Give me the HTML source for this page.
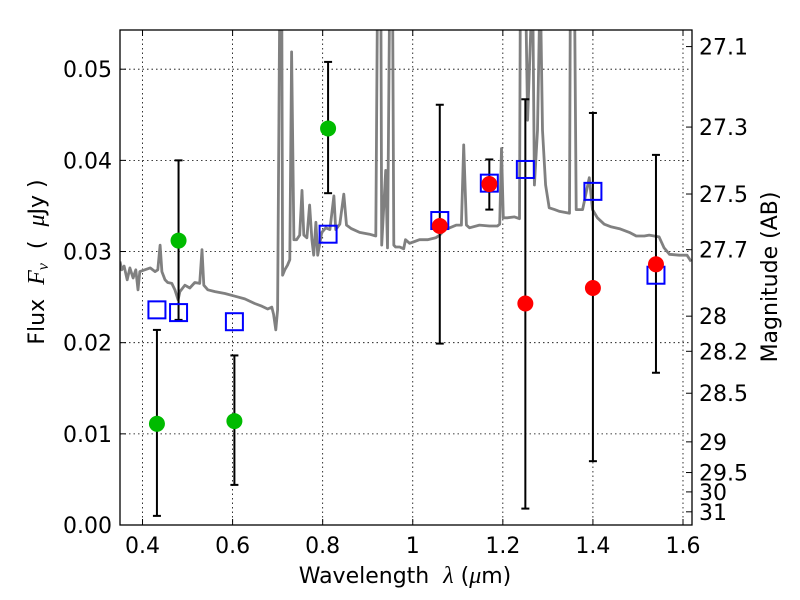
<!DOCTYPE html>
<html><head><meta charset="utf-8"><style>
html,body{margin:0;padding:0;background:#fff;}
svg{display:block;font-family:"DejaVu Sans","Liberation Sans",sans-serif;}
</style></head><body>
<svg id="chart" width="800" height="600" viewBox="0 0 800 600" xmlns="http://www.w3.org/2000/svg">
<rect x="0" y="0" width="800" height="600" fill="#fff"/>
<defs><clipPath id="clip"><rect x="120" y="30" width="572" height="495"/></clipPath></defs>
<g id="grid"></g>
<g id="spec" clip-path="url(#clip)"></g>
<g id="marks" clip-path="url(#clip)"></g>
<rect x="120" y="30" width="572" height="495" fill="none" stroke="#000" stroke-width="1.3"/>
<g id="axes"></g>
<text x="405" y="583" font-size="22" text-anchor="middle" xml:space="preserve">Wavelength  <tspan font-family="Liberation Serif" font-style="italic" font-size="24">λ</tspan> (<tspan font-family="Liberation Serif" font-style="italic" font-size="24">μ</tspan>m)</text>
<text transform="translate(44,262) rotate(-90)" font-size="22" text-anchor="middle" xml:space="preserve">Flux  <tspan font-family="Liberation Serif" font-style="italic" font-size="24">F</tspan><tspan font-family="Liberation Serif" font-style="italic" font-size="16" dy="4">ν</tspan><tspan dy="-4">  (  </tspan><tspan font-family="Liberation Serif" font-style="italic" font-size="24">μ</tspan>Jy )</text>
<text transform="translate(777,277) rotate(-90)" font-size="22" text-anchor="middle">Magnitude (AB)</text>
</svg>
<script>
const xTicks = [0.4,0.6,0.8,1.0,1.2,1.4,1.6];
const xTickLabels = ["0.4","0.6","0.8","1","1.2","1.4","1.6"];
const yTicks = [0,0.01,0.02,0.03,0.04,0.05];
const yTickLabels = ["0.00","0.01","0.02","0.03","0.04","0.05"];
const magTicks = [27.1,27.3,27.5,27.7,28,28.2,28.5,29,29.5,30,31];
const magTickLabels = ["27.1","27.3","27.5","27.7","28","28.2","28.5","29","29.5","30","31"];
const specWl = [0.350,0.354,0.359,0.366,0.372,0.379,0.385,0.390,0.394,0.405,0.417,0.428,0.434,0.439,0.443,0.450,0.456,0.465,0.472,0.479,0.483,0.494,0.505,0.516,0.527,0.532,0.536,0.545,0.561,0.583,0.605,0.627,0.649,0.665,0.678,0.687,0.691,0.696,0.700,0.705,0.709,0.711,0.716,0.722,0.727,0.731,0.736,0.742,0.749,0.754,0.758,0.765,0.771,0.776,0.780,0.785,0.789,0.798,0.807,0.816,0.825,0.829,0.838,0.847,0.853,0.864,0.882,0.904,0.918,0.922,0.929,0.931,0.940,0.944,0.949,0.955,0.958,0.962,0.971,0.980,0.984,0.993,1.004,1.015,1.033,1.051,1.060,1.071,1.082,1.097,1.108,1.113,1.119,1.126,1.148,1.170,1.188,1.193,1.197,1.201,1.210,1.226,1.237,1.239,1.250,1.255,1.266,1.270,1.277,1.283,1.288,1.295,1.303,1.315,1.326,1.348,1.350,1.359,1.363,1.377,1.392,1.399,1.410,1.425,1.441,1.459,1.481,1.496,1.514,1.525,1.547,1.558,1.570,1.592,1.609,1.618];
const specFlux = [0.0289,0.0280,0.0284,0.0269,0.0282,0.0271,0.0280,0.0258,0.0278,0.0280,0.0282,0.0278,0.0280,0.0307,0.0278,0.0269,0.0266,0.0265,0.0258,0.0247,0.0256,0.0263,0.0260,0.0266,0.0265,0.0302,0.0263,0.0258,0.0256,0.0254,0.0251,0.0248,0.0243,0.0240,0.0237,0.0239,0.0231,0.0214,0.0236,0.06,0.06,0.0274,0.0280,0.0285,0.0291,0.0519,0.0313,0.0313,0.0318,0.0367,0.0318,0.0315,0.0351,0.0313,0.0296,0.0332,0.0296,0.0321,0.0326,0.0324,0.0361,0.0324,0.0330,0.0363,0.0329,0.0325,0.0321,0.0319,0.0317,0.06,0.06,0.0307,0.0389,0.0304,0.06,0.06,0.0307,0.0305,0.0305,0.0303,0.0313,0.0309,0.0311,0.0313,0.0313,0.0315,0.0318,0.0324,0.0326,0.0329,0.0329,0.0417,0.0329,0.0326,0.0329,0.0328,0.0328,0.0330,0.0413,0.0337,0.0337,0.0338,0.0336,0.06,0.06,0.0444,0.06,0.0373,0.0433,0.06,0.0433,0.0373,0.0348,0.0346,0.0344,0.0342,0.06,0.06,0.0346,0.0346,0.0381,0.0346,0.0337,0.0330,0.0327,0.0325,0.0321,0.0317,0.0317,0.0318,0.0316,0.0304,0.0297,0.0296,0.0296,0.0289];
const greenWl = [0.432,0.48,0.604,0.812];
const greenFlux = [0.0111,0.0312,0.0114,0.0435];
const greenLo = [0.0010,0.0225,0.0044,0.0364];
const greenHi = [0.0214,0.0400,0.0186,0.0508];
const redWl = [1.06,1.17,1.25,1.40,1.54];
const redFlux = [0.0328,0.0374,0.0243,0.0260,0.0286];
const redLo = [0.0199,0.0346,0.0018,0.0070,0.0167];
const redHi = [0.0461,0.0401,0.0467,0.0452,0.0406];
const modelWl = [0.432,0.48,0.604,0.812,1.06,1.17,1.25,1.40,1.54];
const modelFlux = [0.0236,0.0233,0.0223,0.0319,0.0334,0.0375,0.0390,0.0366,0.0274];

const NS='http://www.w3.org/2000/svg';
const X0=120,X1=692,Y0=525,Y1=30,XMIN=0.35,XMAX=1.62,YMIN=0,YMAX=0.0543;
function sx(v){return X0+(v-XMIN)/(XMAX-XMIN)*(X1-X0);}
function sy(v){return Y0-(v-YMIN)/(YMAX-YMIN)*(Y0-Y1);}
function magToFlux(m){return Math.pow(10,(23.9-m)/2.5);}
function mk(tag,attrs,parent){const e=document.createElementNS(NS,tag);for(const k in attrs)e.setAttribute(k,attrs[k]);parent.appendChild(e);return e;}
const grid=document.getElementById('grid'),axes=document.getElementById('axes'),spec=document.getElementById('spec'),marks=document.getElementById('marks');

xTicks.forEach((t,i)=>{const x=sx(t);
 let g=mk('line',{x1:x,x2:x,y1:Y1,y2:Y0,stroke:'#000','stroke-width':0.8,'stroke-dasharray':'1.5,3'},grid);
 
 
 let a=mk('line',{x1:x,x2:x,y1:Y0,y2:Y0-6,stroke:'#000','stroke-width':1},axes);
 
 
 let b=mk('line',{x1:x,x2:x,y1:Y1,y2:Y1+6,stroke:'#000','stroke-width':1},axes);
 
 
 let tx=mk('text',{x:x,y:553,'font-size':22,'text-anchor':'middle'},axes);tx.textContent=xTickLabels[i];
 
 
});
yTicks.forEach((t,i)=>{const y=sy(t);
 if(t>0){let g=mk('line',{x1:X0,x2:X1,y1:y,y2:y,stroke:'#000','stroke-width':0.8,'stroke-dasharray':'1.5,3'},grid);
 
 }
 let a=mk('line',{x1:X0,x2:X0+6,y1:y,y2:y,stroke:'#000','stroke-width':1},axes);
 
 
 let tx=mk('text',{x:112,y:y+8,'font-size':22,'text-anchor':'end'},axes);tx.textContent=yTickLabels[i];
 
 
});
magTicks.forEach((m,i)=>{const y=sy(magToFlux(m));
 let a=mk('line',{x1:X1-6,x2:X1,y1:y,y2:y,stroke:'#000','stroke-width':1},axes);
 
 
 let tx=mk('text',{x:699,y:y+8,'font-size':22,'text-anchor':'start'},axes);tx.textContent=magTickLabels[i];
 
 
});
let d='';specWl.forEach((w,i)=>{d+=(i?'L':'M')+sx(w).toFixed(1)+','+sy(specFlux[i]).toFixed(1);});
const sp=mk('path',{d:d,fill:'none',stroke:'#808080','stroke-width':2.8,'stroke-linejoin':'round'},spec);



function errbar(w,lo,hi){const x=sx(w),a=sy(lo),b=sy(hi);
 let l=mk('line',{x1:x,x2:x,y1:a,y2:b,stroke:'#000','stroke-width':2},marks);
 
 
 [a,b].forEach(yy=>{let c=mk('line',{x1:x-4,x2:x+4,y1:yy,y2:yy,stroke:'#000','stroke-width':2},marks);
 
 });
}
greenWl.forEach((w,i)=>errbar(w,greenLo[i],greenHi[i]));
redWl.forEach((w,i)=>errbar(w,redLo[i],redHi[i]));
modelWl.forEach((w,i)=>{let r=mk('rect',{x:sx(w)-8.5,y:sy(modelFlux[i])-8.5,width:17,height:17,fill:'none',stroke:'#0000ff','stroke-width':2},marks);
 
 });
greenWl.forEach((w,i)=>{let c=mk('circle',{cx:sx(w),cy:sy(greenFlux[i]),r:8,fill:'#00bb00'},marks);
 
 });
redWl.forEach((w,i)=>{let c=mk('circle',{cx:sx(w),cy:sy(redFlux[i]),r:8,fill:'#ff0000'},marks);
 
 });
</script>
</body></html>
